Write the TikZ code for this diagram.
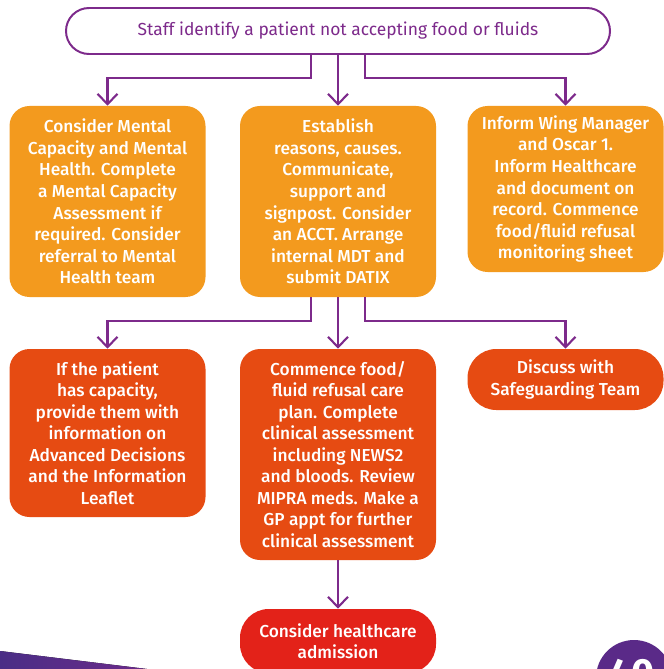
\documentclass[tikz,border=0pt]{standalone}
\usepackage{fontspec}
\setmainfont{Fira Sans}
\newfontfamily\boxfont{Fira Sans Medium}
\usetikzlibrary{arrows.meta,positioning}
\definecolor{plum}{HTML}{7D2A8B}
\definecolor{ambfill}{HTML}{F39A1E}
\definecolor{rustfill}{HTML}{E64B12}
\definecolor{redfill}{HTML}{E32219}
\definecolor{inkdeep}{HTML}{4A2E86}
\definecolor{inkmid}{HTML}{6B2A8A}
\definecolor{discfill}{HTML}{5A2A88}

\begin{document}
\begin{tikzpicture}[
  >={Straight Barb[length=2.6mm,width=5mm]},
  start/.style={draw=plum, line width=1.4pt, fill=white, rounded corners=0.575cm,
                minimum width=13.6cm, minimum height=1.15cm, inner sep=0pt,
                text=plum, font=\fontsize{12.4}{14}\selectfont},
  card/.style={rounded corners=0.5cm, draw=none, align=center, inner sep=0pt,
               text=white, minimum width=4.9cm,
               font=\boxfont\fontsize{12.3}{15.3}\selectfont},
  amb/.style={card, fill=ambfill},
  rust/.style={card, fill=rustfill},
  pill/.style={card, rounded corners=0.72cm},
  arr/.style={->, draw=plum, line width=1.5pt},
]
\useasboundingbox (0,0) rectangle (16.575,-16.725);

% ---- trigger ----
\node[start] (staff) at (8.45,-0.775) {Staff identify a patient not accepting food or fluids};

% ---- first actions ----
\node[amb, minimum height=4.775cm] (mentcap) at (2.6875,-5.0375)
  {Consider Mental\\Capacity and Mental\\Health. Complete\\a Mental Capacity\\Assessment if\\required. Consider\\referral to Mental\\Health team};
\node[amb, minimum height=4.775cm] (reasons) at (8.45,-5.0375)
  {Establish\\reasons, causes.\\Communicate,\\support and\\signpost. Consider\\an ACCT. Arrange\\internal MDT and\\submit DATIX};
\node[amb, minimum height=4.15cm] (inform) at (14.1375,-4.725)
  {Inform Wing Manager\\and Oscar 1.\\Inform Healthcare\\and document on\\record. Commence\\food/fluid refusal\\monitoring sheet};

% ---- follow-up ----
\node[rust, minimum height=4.2cm] (capinfo) at (2.6875,-10.825)
  {If the patient\\has capacity,\\provide them with\\information on\\Advanced Decisions\\and the Information\\Leaflet};
\node[rust, minimum height=5.275cm] (careplan) at (8.45,-11.3625)
  {Commence food/\\fluid refusal care\\plan. Complete\\clinical assessment\\including NEWS2\\and bloods. Review\\MIPRA meds. Make a\\GP appt for further\\clinical assessment};
\node[rust, pill, minimum height=1.525cm] (safeguard) at (14.1375,-9.4875)
  {Discuss with\\Safeguarding Team};

% ---- escalation ----
\node[card, pill, fill=redfill, minimum height=1.6cm] (admit) at (8.45,-16.025)
  {Consider healthcare\\admission};

% ---- arrows ----
\draw[arr] ([xshift=-6.75mm]staff.south) -- ++(0,-0.575) -| (mentcap.north);
\draw[arr] (staff.south) -- (reasons.north);
\draw[arr] ([xshift=6.75mm]staff.south) -- ++(0,-0.575) -| (inform.north);
\draw[arr] ([xshift=-6.75mm]reasons.south) -- ++(0,-0.59) -| (capinfo.north);
\draw[arr] (reasons.south) -- (careplan.north);
\draw[arr] ([xshift=6.75mm]reasons.south) -- ++(0,-0.59) -| (safeguard.north);
\draw[arr] (careplan.south) -- (admit.north);

% ---- page furniture ----
\fill[left color=inkdeep, right color=inkmid] (0,-16.275) -- (3.675,-16.725) -- (0,-16.725) -- cycle;
\fill[discfill] (15.85,-16.95) circle (0.95cm);
\node[text=white, anchor=north, font=\bfseries\fontsize{28}{30}\selectfont] (pageno) at (15.8,-16.35) {40};

\end{tikzpicture}
\end{document}
